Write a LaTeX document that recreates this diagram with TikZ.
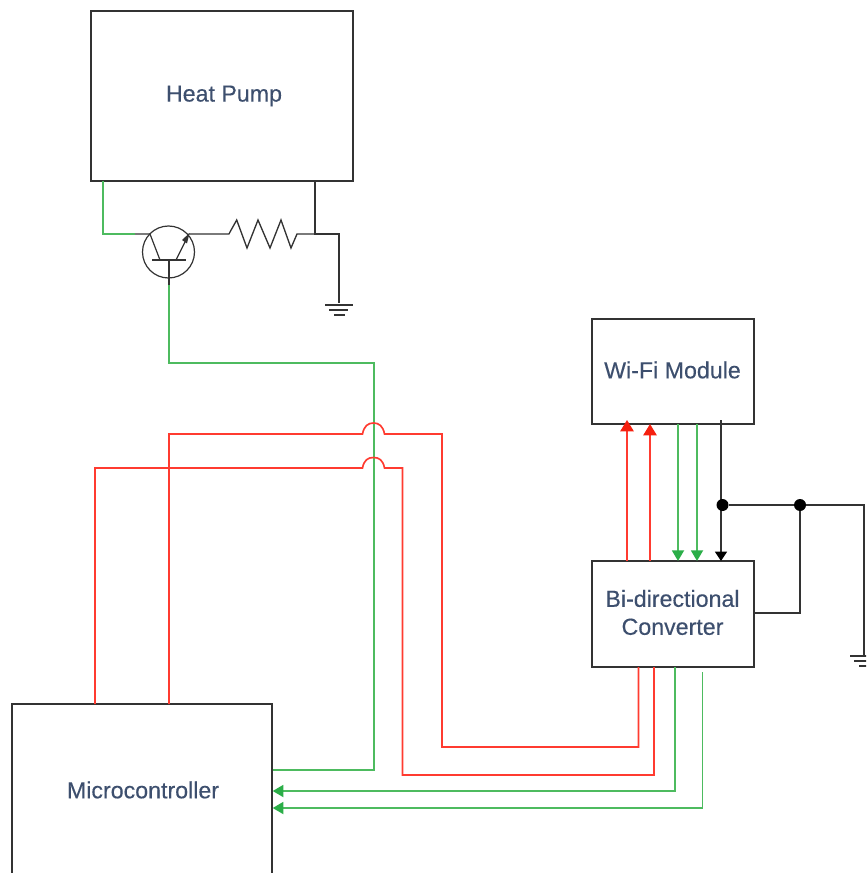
\documentclass[tikz,border=0pt]{standalone}
\usepackage{fontspec}
\setmainfont[FakeBold=0.3]{Liberation Sans}
\usetikzlibrary{arrows.meta}
\definecolor{wblack}{HTML}{333333}
\definecolor{wgreen}{HTML}{4DBB5F}
\definecolor{agreen}{HTML}{2BAE48}
\definecolor{wred}{HTML}{FF3B30}
\definecolor{ared}{HTML}{F5200F}
\definecolor{wtext}{HTML}{3D4F6E}
\tikzset{
  box/.style={draw=wblack,line width=1.05pt,fill=white,align=center,inner sep=0pt,text=wtext,font=\fontsize{17.4}{21}\selectfont},
  wb/.style={draw=wblack,line width=1.15pt},
  wg/.style={draw=wgreen,line width=1.35pt},
  wr/.style={draw=wred,line width=1.25pt},
  ga/.style={wg,-{Triangle[length=8pt,width=9pt,color=agreen]}},
  ra/.style={wr,-{Triangle[length=8.5pt,width=10pt,color=ared]}},
  ka/.style={wb,-{Triangle[length=7pt,width=9pt,color=black]}},
  dot/.style={circle,fill=black,inner sep=0pt,minimum size=9pt},
  thin part/.style={draw=wblack,line width=0.9pt}
}
\begin{document}
\begin{tikzpicture}[x=0.75pt,y=-0.75pt,line join=miter]
\useasboundingbox (0,0) rectangle (866,873);
\clip (0,0) rectangle (866,873);
% boxes
\node[box,minimum width=196.5pt,minimum height=127.5pt] (hp) at (222,96) {};
\node[box,minimum width=121.5pt,minimum height=78.75pt] (wifi) at (673,371.5) {};
\node[box,minimum width=121.5pt,minimum height=79.5pt] (conv) at (673,614) {};
\node[box,minimum width=195pt,minimum height=129pt] (mcu) at (142,790) {};
\node[box,draw=none,fill=none] (hpt) at (224,96) {Heat Pump};
\node[box,draw=none,fill=none] (wifit) at (672.5,370) {Wi-Fi Module};
\node[box,draw=none,fill=none] (convt) at (672.5,612.5) {Bi-directional\\Converter};
\node[box,draw=none,fill=none] (mcut) at (143,790) {Microcontroller};
% transistor
\node[circle,draw=wblack,line width=0.9pt,minimum size=39pt,inner sep=0pt] (q) at (168.5,252) {};
\coordinate (qc) at (135,234);
\coordinate (qe) at (188.7,234);
\coordinate (qb) at (169,285);
\draw[thin part] (152,260) -- (186,260);
\draw[thin part] (169,260) -- (qb);
\draw[thin part] (qc) -- (150,234) -- (160,260);
\draw[thin part] (176,260) -- (188,236);
\fill[wblack] (189.5,233) -- (182,240) -- (187,243.5) -- cycle;
% resistor
\coordinate (rl) at (229,234);
\coordinate (rr) at (297,234);
\coordinate (tj) at (315,234);
\draw[thin part,line width=1pt] (qe) -- (rl) -- (230,232) -- (236.7,220) -- (247,248) -- (258,220) -- (270,248) -- (281,220) -- (291,248) -- (rr) -- (tj);
% heat pump to ground
\coordinate (gt) at (339,303);
\draw[wb] (315,181) -- (tj) -- (339,234) -- (gt);
\draw[wb,line width=0.9pt] (325,305) -- (353,305) (329,310) -- (348,310) (334,315) -- (345,315);
% green transistor
\draw[wg] (103,181) -- (103,234) -- (qc);
\draw[wg] (qb) -- (169,363) -- (374,363) -- (374,770) -- (mcu.east |- 0,770);
% red
\draw[wr] (169,704) -- (169,434) -- (362.5,434) .. controls (364,426) and (368,423) .. (373.5,423) .. controls (379,423) and (383,426) .. (384.5,434) -- (442,434) -- (442,747) -- (638.5,747) -- (638.5,667);
\draw[wr] (95,704) -- (95,468) -- (362.5,468) .. controls (364,460) and (368,457.5) .. (373.5,457.5) .. controls (379,457.5) and (383,460) .. (384.5,468) -- (402.5,468) -- (402.5,775) -- (654,775) -- (654,667);
% green to mcu
\draw[ga] (675,667) -- (675,791) -- (mcu.east |- 0,791);
\coordinate (gfree) at (702.5,672);
\draw[ga] (gfree) -- (702.5,808) -- (mcu.east |- 0,808);
% conv to wifi
\draw[ra] (627,561) -- (627,420);
\draw[ra] (650,561) -- (650,424);
\draw[ga] (678,424) -- (678,561);
\draw[ga] (697,424) -- (697,561);
\draw[ka] (721,420) -- (721,561);
% junctions
\node[dot] (j1) at (722.5,505) {};
\node[dot] (j2) at (800,505) {};
\coordinate (gr) at (864,655);
\draw[wb] (j1) -- (j2) -- (864,505) -- (gr);
\draw[wb] (conv.east |- 0,613) -- (800,613) -- (j2);
\draw[wb,line width=0.9pt] (850,656) -- (878,656) (854,661) -- (873,661) (859,666) -- (870,666);
\end{tikzpicture}
\end{document}
